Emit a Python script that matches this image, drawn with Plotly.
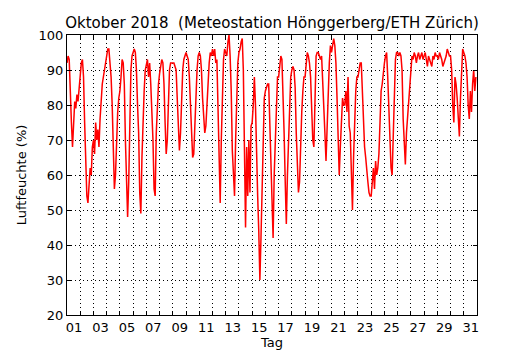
import plotly.graph_objects as go

# Relative humidity (%), October 2018, sampled every 2 hours (00h, 02h, ..., 22h)
hours = [0, 2, 4, 6, 8, 10, 12, 14, 16, 18, 20, 22]
days = list(range(1, 32))

humidity_by_day = [
    [92, 94, 93, 80, 75, 68, 76, 81, 79, 83, 81, 85],   # 01
    [88, 92, 93, 88, 75, 62, 54, 52, 58, 62, 60, 68],   # 02
    [70, 66, 75, 70, 73, 68, 76, 82, 86, 88, 90, 93],   # 03
    [95, 96, 96, 93, 88, 80, 68, 56, 60, 72, 78, 82],   # 04
    [84, 88, 93, 92, 86, 70, 55, 48, 58, 80, 90, 94],   # 05
    [95, 96, 95, 90, 80, 72, 55, 49, 65, 78, 84, 90],   # 06
    [92, 93, 88, 92, 86, 80, 70, 56, 54, 72, 82, 86],   # 07
    [89, 91, 93, 92, 86, 75, 66, 70, 82, 90, 92, 92],   # 08
    [92, 92, 91, 90, 82, 72, 67, 72, 84, 90, 93, 94],   # 09
    [95, 94, 93, 88, 80, 72, 65, 66, 76, 84, 90, 94],   # 10
    [95, 94, 90, 82, 76, 72, 74, 80, 88, 92, 95, 94],   # 11
    [96, 94, 96, 92, 93, 80, 60, 52, 70, 85, 93, 96],   # 12
    [95, 94, 98, 100, 94, 84, 67, 60, 54, 70, 84, 92],  # 13
    [95, 96, 98, 99, 90, 72, 45, 68, 54, 70, 55, 74],   # 14
    [75, 80, 88, 80, 62, 54, 44, 30, 42, 54, 70, 82],   # 15
    [84, 85, 86, 86, 75, 60, 48, 42, 60, 70, 80, 88],   # 16
    [88, 92, 94, 93, 85, 72, 58, 46, 60, 72, 82, 88],   # 17
    [90, 91, 90, 85, 72, 60, 55, 58, 70, 78, 84, 88],   # 18
    [88, 92, 95, 94, 92, 88, 80, 70, 68, 84, 94, 95],   # 19
    [95, 94, 93, 94, 88, 80, 72, 64, 75, 86, 92, 97],   # 20
    [95, 97, 99, 97, 92, 82, 70, 60, 68, 78, 82, 80],   # 21
    [80, 84, 78, 88, 74, 72, 60, 50, 65, 78, 84, 88],   # 22
    [88, 90, 92, 92, 84, 75, 68, 65, 60, 58, 55, 54],   # 23
    [54, 58, 62, 56, 64, 60, 62, 66, 76, 84, 86, 90],   # 24
    [92, 94, 95, 88, 78, 68, 62, 60, 72, 86, 93, 95],   # 25
    [95, 94, 95, 94, 90, 76, 68, 63, 72, 77, 80, 84],   # 26
    [90, 94, 93, 95, 94, 92, 94, 95, 93, 94, 95, 93],   # 27
    [94, 95, 93, 91, 94, 93, 92, 91, 94, 93, 95, 94],   # 28
    [94, 93, 95, 94, 93, 91, 92, 93, 94, 96, 95, 94],   # 29
    [94, 90, 80, 75, 88, 86, 82, 76, 71, 82, 92, 96],   # 30
    [95, 94, 92, 88, 80, 76, 84, 78, 86, 90, 84, 88],   # 31
]

# Axis ticks: one per day boundary, labels on odd days
tick_days = list(range(1, 33))
tick_text = [f"{d:02d}" if (d % 2 == 1 and d <= 31) else "" for d in tick_days]
y_ticks = [20, 30, 40, 50, 60, 70, 80, 90, 100]

# Fractional day coordinate (day + hour/24) for each sample
t = []
rh = []
for d, row in zip(days, humidity_by_day):
    for h, v in zip(hours, row):
        t.append(d + h / 24.0)
        rh.append(v)

fig = go.Figure()
fig.add_trace(go.Scatter(
    x=t, y=rh, mode="lines",
    line=dict(color="#ff0000", width=1.5),
    hoverinfo="skip", showlegend=False,
))

font = dict(family="DejaVu Sans", size=13, color="#000000")

fig.update_layout(
    width=530, height=350,
    margin=dict(l=67, r=53, t=35, b=35, autoexpand=False),
    paper_bgcolor="white", plot_bgcolor="white",
    font=font,
    title=dict(
        text="Oktober 2018 \u00a0(Meteostation Hönggerberg/ETH Zürich)",
        x=0.5, xref="paper", xanchor="center",
        y=1 - 23 / 350, yref="container", yanchor="middle",
        font=dict(family="DejaVu Sans", size=15, color="#000000"),
    ),
    showlegend=False,
)

grid_style = dict(showgrid=True, gridcolor="#000000", gridwidth=1, griddash="1px,3px")
axis_style = dict(
    ticks="inside", ticklen=4, tickcolor="#000000", tickwidth=1,
    showline=True, linecolor="#000000", linewidth=1.2, mirror="ticks",
    zeroline=False, automargin=False, tickfont=font,
)

fig.update_xaxes(
    range=[1, 32],
    tickmode="array", tickvals=tick_days, ticktext=tick_text,
    ticklabelshift=7,
    title=dict(text="Tag", font=font, standoff=2),
    **grid_style, **axis_style,
)

fig.update_yaxes(
    range=[20, 100],
    tickmode="array", tickvals=y_ticks,
    title=dict(text="Luftfeuchte (%)", font=font, standoff=8),
    **grid_style, **axis_style,
)

fig.write_html("out.html")
